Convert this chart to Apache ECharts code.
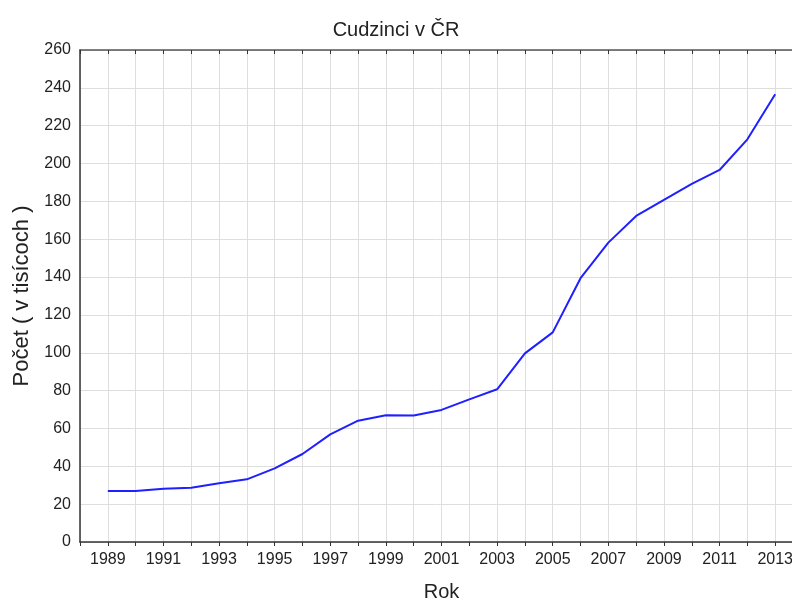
<!DOCTYPE html>
<html>
<head>
<meta charset="utf-8">
<script src="https://cdn.jsdelivr.net/npm/echarts@6/dist/echarts.min.js"></script>
<style>
  html, body { margin: 0; padding: 0; background: #fff; }
  #chart { width: 792px; height: 601px; }
</style>
</head>
<body>
<div id="chart"></div>
<script>
  // Years and foreigners in CZ (thousands).
  const years = [1989, 1990, 1991, 1992, 1993, 1994, 1995, 1996, 1997, 1998, 1999, 2000, 2001,
                 2002, 2003, 2004, 2005, 2006, 2007, 2008, 2009, 2010, 2011, 2012, 2013];
  const counts = [27.0, 27.0, 28.2, 28.7, 31.0, 33.1, 38.9, 46.5, 56.9, 64.1, 67.0, 66.9, 69.8,
                  75.4, 80.7, 99.7, 110.8, 139.4, 158.2, 172.3, 180.8, 189.2, 196.6, 212.8, 236.6];

  const titleText = 'Cudzinci v ČR';
  const xName = 'Rok';
  const yName = 'Počet ( v tisícoch )';

  const font = 'Liberation Sans, Arial, sans-serif';
  const gridColor = '#dedede';
  const axisColor = '#333';

  const chart = echarts.init(document.getElementById('chart'));
  chart.setOption({
    animation: false,
    title: {
      text: titleText,
      left: 'center',
      top: 15,
      textStyle: { fontFamily: font, fontSize: 20, fontWeight: 'normal', color: '#222' }
    },
    grid: { left: 80, top: 50, width: 723, height: 492, outerBoundsMode: 'none', containLabel: false },
    xAxis: [{
      type: 'value',
      min: 1988,
      max: 2014,
      interval: 1,
      name: xName,
      nameLocation: 'middle',
      nameGap: 40,
      nameTextStyle: { fontFamily: font, fontSize: 20, color: '#222' },
      axisLine: { show: true, onZero: false, lineStyle: { color: axisColor, width: 1.5 } },
      axisTick: { show: true, inside: false, length: 4, lineStyle: { color: axisColor } },
      axisLabel: {
        fontFamily: font, fontSize: 16, color: '#222', margin: 10,
        formatter: v => (v % 2 === 1 ? String(v) : '')
      },
      splitLine: { show: true, lineStyle: { color: gridColor, width: 1 } }
    }, {
      type: 'value',
      position: 'top',
      min: 1988,
      max: 2014,
      interval: 1,
      axisLine: { show: true, onZero: false, lineStyle: { color: '#555', width: 1.5 } },
      axisTick: { show: true, inside: true, length: 4, lineStyle: { color: axisColor } },
      axisLabel: { show: false },
      splitLine: { show: false }
    }],
    yAxis: {
      type: 'value',
      min: 0,
      max: 260,
      interval: 20,
      name: yName,
      nameLocation: 'middle',
      nameGap: 46,
      nameTextStyle: { fontFamily: font, fontSize: 22, color: '#222' },
      axisLine: { show: true, onZero: false, lineStyle: { color: axisColor, width: 1.5 } },
      axisTick: { show: false },
      axisLabel: { fontFamily: font, fontSize: 16, color: '#222', margin: 9 },
      splitLine: { show: true, lineStyle: { color: gridColor, width: 1 } }
    },
    series: [{
      type: 'line',
      xAxisIndex: 0,
      data: years.map((y, i) => [y, counts[i]]),
      showSymbol: false,
      lineStyle: { color: '#1f1fff', width: 2 },
      itemStyle: { color: '#1f1fff' }
    }]
  });
</script>
</body>
</html>
